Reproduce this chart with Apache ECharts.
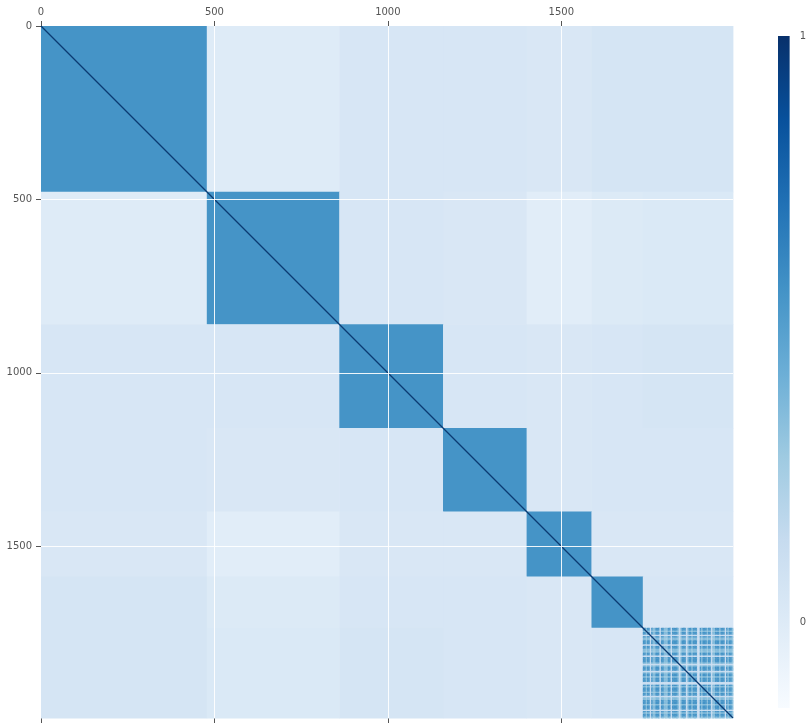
<!DOCTYPE html>
<html>
<head>
<meta charset="utf-8">
<script src="https://cdn.jsdelivr.net/npm/echarts@6/dist/echarts.min.js"></script>
<style>
  html, body { margin: 0; padding: 0; background: #ffffff; }
  #chart { width: 809px; height: 723px; }
</style>
</head>
<body>
<div id="chart"></div>
<script>
// Cluster sizes along the sorted item order
const blockSizes = [478, 382, 299, 241, 187, 148, 260];

// Mean correlation inside / between clusters (row cluster x column cluster)
const blockMeans = [
  [0.56, 0.00, 0.04, 0.04, 0.03, 0.05, 0.05],
  [0.00, 0.56, 0.04, 0.03, -0.02, 0.01, 0.02],
  [0.04, 0.04, 0.56, 0.04, 0.03, 0.04, 0.05],
  [0.04, 0.03, 0.04, 0.56, 0.03, 0.04, 0.04],
  [0.03, -0.02, 0.03, 0.03, 0.56, 0.03, 0.03],
  [0.05, 0.01, 0.04, 0.04, 0.03, 0.56, 0.04],
  [0.05, 0.02, 0.05, 0.04, 0.03, 0.04, null]
];

// The last cluster is mixed: sub-group of each run of 4 items
const lastBlockGroups = "aabaacabbaaacaabbbaacaaaabcbaaacbaabaaaccabaaabaacbbaaabaaacabaab";
// Mean correlation between two sub-groups of the last cluster
const lastBlockPairs = { aa: 0.56, ab: 0.36, ac: 0.13, bb: 0.28, bc: 0.11, cc: 0.10 };

// Self-correlation on the diagonal
const diagonalValue = 1;

const tickValues = [0, 500, 1000, 1500];
const colorbarTicks = [0, 1];
const colorMin = -0.145;
const colorMax = 1;

// matplotlib "Blues"
const blues = ['#f7fbff', '#deebf7', '#c6dbef', '#9ecae1', '#6baed6',
               '#4292c6', '#2171b5', '#08519c', '#08306b'];

const N = blockSizes.reduce((a, b) => a + b, 0);
const starts = [];
blockSizes.reduce((acc, s) => { starts.push(acc); return acc + s; }, 0);

// rectangles: [col0, col1, row0, row1, value]
const cells = [];
for (let r = 0; r < blockSizes.length; r++) {
  for (let c = 0; c < blockSizes.length; c++) {
    const v = blockMeans[r][c];
    if (v === null) continue;
    cells.push([starts[c], starts[c] + blockSizes[c], starts[r], starts[r] + blockSizes[r], v]);
  }
}
const last = blockSizes.length - 1;
const seg = blockSizes[last] / lastBlockGroups.length;
for (let i = 0; i < lastBlockGroups.length; i++) {
  for (let j = 0; j < lastBlockGroups.length; j++) {
    const key = [lastBlockGroups[i], lastBlockGroups[j]].sort().join('');
    const x0 = starts[last] + j * seg, y0 = starts[last] + i * seg;
    cells.push([x0, x0 + seg, y0, y0 + seg, lastBlockPairs[key]]);
  }
}

const font = { fontFamily: 'DejaVu Sans', fontSize: 10, color: '#555555' };
const tickStyle = { color: '#555555', width: 1 };
const plainNumber = v => String(v);

// vertical gradient for the colour bar (bottom = min, top = max)
const barGradient = new echarts.graphic.LinearGradient(0, 1, 0, 0,
  blues.map((c, i) => ({ offset: i / (blues.length - 1), color: c })));

const chart = echarts.init(document.getElementById('chart'), null, { renderer: 'canvas' });

chart.setOption({
  animation: false,
  backgroundColor: '#ffffff',
  grid: [
    { left: 41, top: 26, width: 692, height: 692, containLabel: false },
    { left: 778, top: 36, width: 16, height: 672, containLabel: false }
  ],
  xAxis: [
    {
      type: 'value', gridIndex: 0, position: 'top', min: 0, max: N,
      axisLine: { show: false },
      axisTick: { show: true, length: 5, inside: false, lineStyle: tickStyle, customValues: tickValues },
      axisLabel: { show: true, margin: 9, customValues: tickValues, formatter: plainNumber, ...font },
      splitLine: { show: false }
    },
    {
      type: 'value', gridIndex: 0, position: 'bottom', min: 0, max: N,
      axisLine: { show: false },
      axisTick: { show: true, length: 5, lineStyle: tickStyle, customValues: tickValues },
      axisLabel: { show: false },
      splitLine: { show: false }
    },
    { type: 'value', gridIndex: 1, show: false, min: 0, max: 1 }
  ],
  yAxis: [
    {
      type: 'value', gridIndex: 0, inverse: true, min: 0, max: N,
      axisLine: { show: false },
      axisTick: { show: true, length: 5, lineStyle: tickStyle, customValues: tickValues },
      axisLabel: { show: true, margin: 9, customValues: tickValues, formatter: plainNumber, ...font },
      splitLine: { show: false }
    },
    {
      type: 'value', gridIndex: 1, position: 'right', min: colorMin, max: colorMax,
      axisLine: { show: false },
      axisTick: { show: true, length: 5, lineStyle: tickStyle, customValues: colorbarTicks },
      axisLabel: { show: true, margin: 10, customValues: colorbarTicks, formatter: plainNumber, ...font },
      splitLine: { show: false }
    }
  ],
  visualMap: {
    type: 'continuous',
    seriesIndex: 0,
    dimension: 4,
    min: colorMin,
    max: colorMax,
    show: false,
    inRange: { color: blues }
  },
  series: [
    {
      type: 'custom',
      xAxisIndex: 0,
      yAxisIndex: 0,
      silent: true,
      encode: { x: [0, 1], y: [2, 3] },
      data: cells,
      renderItem: function (params, api) {
        const p0 = api.coord([api.value(0), api.value(2)]);
        const p1 = api.coord([api.value(1), api.value(3)]);
        return {
          type: 'rect',
          shape: { x: p0[0], y: p0[1], width: p1[0] - p0[0] + 0.4, height: p1[1] - p0[1] + 0.4 },
          style: { fill: api.visual('color') }
        };
      }
    },
    {
      // self-correlation along the diagonal, plus white grid lines
      type: 'line',
      xAxisIndex: 0,
      yAxisIndex: 0,
      silent: true,
      showSymbol: false,
      data: [[0, 0, diagonalValue], [N, N, diagonalValue]],
      lineStyle: { color: '#0b3a72', width: 1.2 },
      markLine: {
        silent: true,
        symbol: ['none', 'none'],
        label: { show: false },
        lineStyle: { color: '#ffffff', width: 1, type: 'solid', opacity: 0.9 },
        data: tickValues.filter(v => v > 0).flatMap(v => [{ xAxis: v }, { yAxis: v }])
      }
    },
    {
      // colour bar spanning the colour scale range
      type: 'custom',
      xAxisIndex: 2,
      yAxisIndex: 1,
      silent: true,
      data: [[0, 1, colorMin, colorMax]],
      encode: { x: [0, 1], y: [2, 3] },
      renderItem: function (params, api) {
        const a = api.coord([api.value(0), api.value(3)]);
        const b = api.coord([api.value(1), api.value(2)]);
        return {
          type: 'rect',
          shape: { x: a[0], y: a[1], width: b[0] - a[0], height: b[1] - a[1] },
          style: { fill: barGradient }
        };
      }
    }
  ]
});
</script>
</body>
</html>
